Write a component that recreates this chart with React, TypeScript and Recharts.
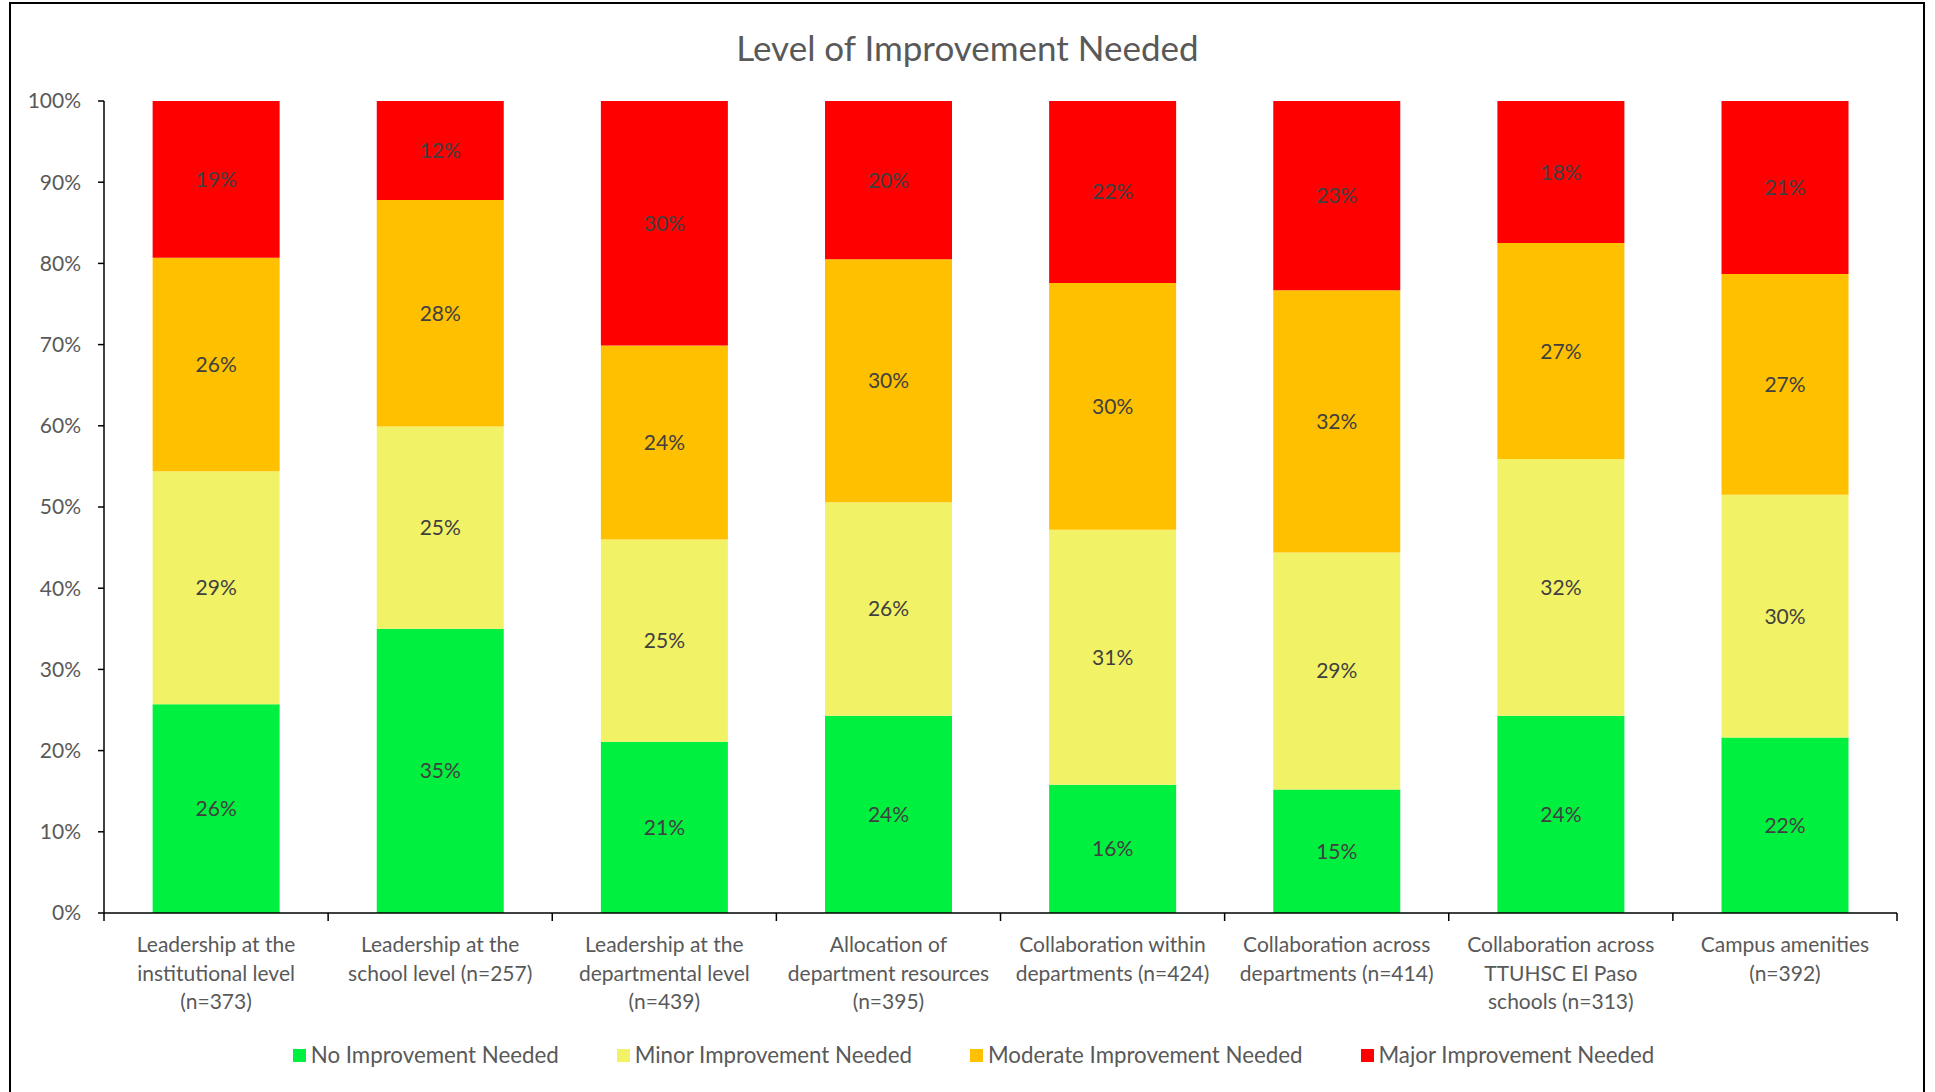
import React from "react";
import { BarChart, Bar, XAxis, YAxis, LabelList } from "recharts";

// categories, one line break per wrapped line of the axis label
const categories = [
  "Leadership at the\ninstitutional level\n(n=373)",
  "Leadership at the\nschool level (n=257)",
  "Leadership at the\ndepartmental level\n(n=439)",
  "Allocation of\ndepartment resources\n(n=395)",
  "Collaboration within\ndepartments (n=424)",
  "Collaboration across\ndepartments (n=414)",
  "Collaboration across\nTTUHSC El Paso\nschools (n=313)",
  "Campus amenities\n(n=392)",
];

// percent of respondents per category
const noImprovement = [25.7, 35.0, 21.1, 24.3, 15.8, 15.2, 24.3, 21.6];
const minorImprovement = [28.7, 24.9, 24.9, 26.3, 31.4, 29.2, 31.6, 29.9];
const moderateImprovement = [26.3, 27.9, 23.9, 29.9, 30.4, 32.3, 26.6, 27.2];
const majorImprovement = [19.3, 12.2, 30.1, 19.5, 22.4, 23.3, 17.5, 21.3];

const yTicks = [0, 10, 20, 30, 40, 50, 60, 70, 80, 90, 100];

const SERIES = [
  { key: "No Improvement Needed", values: noImprovement, color: "#00F03F" },
  { key: "Minor Improvement Needed", values: minorImprovement, color: "#F2F266" },
  { key: "Moderate Improvement Needed", values: moderateImprovement, color: "#FFC000" },
  { key: "Major Improvement Needed", values: majorImprovement, color: "#FF0000" },
];

const data = categories.map((name, i) => {
  const row: any = { name };
  SERIES.forEach((s) => (row[s.key] = s.values[i]));
  return row;
});

const WIDTH = 1935;
const HEIGHT = 1092;
const MARGIN = { top: 101, right: 38, left: 44, bottom: 20 };
const Y_AXIS_W = 60;
const PLOT_W = WIDTH - MARGIN.left - MARGIN.right - Y_AXIS_W;
const BAND = PLOT_W / categories.length;
const TEXT = "#595959";

const CategoryTick = (props: any) => {
  const { x, y, payload, index } = props;
  const lines = String(payload.value).split("\n");
  const half = BAND / 2;
  return (
    <g>
      <line x1={x - half} x2={x - half} y1={y} y2={y + 8} stroke="#000" strokeWidth={1.5} />
      {index === categories.length - 1 && (
        <line x1={x + half} x2={x + half} y1={y} y2={y + 8} stroke="#000" strokeWidth={1.5} />
      )}
      <text x={x} y={y} textAnchor="middle" fill={TEXT} fontSize={21}>
        {lines.map((l, i) => (
          <tspan key={i} x={x} dy={i === 0 ? 39 : 28.5}>
            {l}
          </tspan>
        ))}
      </text>
    </g>
  );
};

export default function App() {
  return (
    <div
      style={{
        position: "absolute",
        left: 0,
        top: 0,
        width: WIDTH,
        height: HEIGHT,
        overflow: "hidden",
        background: "#fff",
        fontFamily: "Lato, 'Open Sans', sans-serif",
      }}
    >
      {/* chart frame */}
      <div
        style={{
          position: "absolute",
          left: 9,
          top: 2,
          width: 1916,
          height: 1120,
          border: "2px solid #000",
          boxSizing: "border-box",
        }}
      />

      {/* Title */}
      <div
        style={{
          position: "absolute",
          top: 28,
          left: 0,
          width: WIDTH,
          textAlign: "center",
          fontSize: 35,
          lineHeight: "38px",
          color: TEXT,
        }}
      >
        Level of Improvement Needed
      </div>

      <div style={{ position: "absolute", left: 0, top: 0 }}>
        <BarChart width={WIDTH} height={HEIGHT} data={data} margin={MARGIN} barCategoryGap="21.7%">
          <XAxis
            dataKey="name"
            interval={0}
            tickLine={false}
            tickSize={0}
            tickMargin={0}
            height={HEIGHT - 913 - MARGIN.bottom}
            axisLine={{ stroke: "#000", strokeWidth: 1.5 }}
            tick={<CategoryTick />}
          />
          <YAxis
            width={Y_AXIS_W}
            domain={[0, 100]}
            ticks={yTicks}
            interval={0}
            tickFormatter={(v: number) => `${v}%`}
            axisLine={{ stroke: "#000", strokeWidth: 1.5 }}
            tickLine={{ stroke: "#000", strokeWidth: 1.5 }}
            tickSize={6}
            tickMargin={17}
            tick={{ fill: TEXT, fontSize: 21 }}
          />
          {SERIES.map((s) => (
            <Bar key={s.key} dataKey={s.key} stackId="a" fill={s.color} isAnimationActive={false}>
              <LabelList
                dataKey={s.key}
                position="center"
                fill="#404040"
                fontSize={21}
                formatter={(v: any) => `${Math.round(Number(v))}%`}
              />
            </Bar>
          ))}
        </BarChart>
      </div>

      {/* Legend */}
      <div
        style={{
          position: "absolute",
          top: 1041,
          left: 6,
          width: WIDTH,
          display: "flex",
          justifyContent: "center",
          fontSize: 22.3,
          lineHeight: "28px",
          color: TEXT,
        }}
      >
        {SERIES.map((s, i) => (
          <div
            key={s.key}
            style={{ display: "flex", alignItems: "center", marginRight: i < SERIES.length - 1 ? 58 : 0 }}
          >
            <span style={{ width: 13, height: 13, background: s.color, marginRight: 5, display: "inline-block" }} />
            <span>{s.key}</span>
          </div>
        ))}
      </div>
    </div>
  );
}
